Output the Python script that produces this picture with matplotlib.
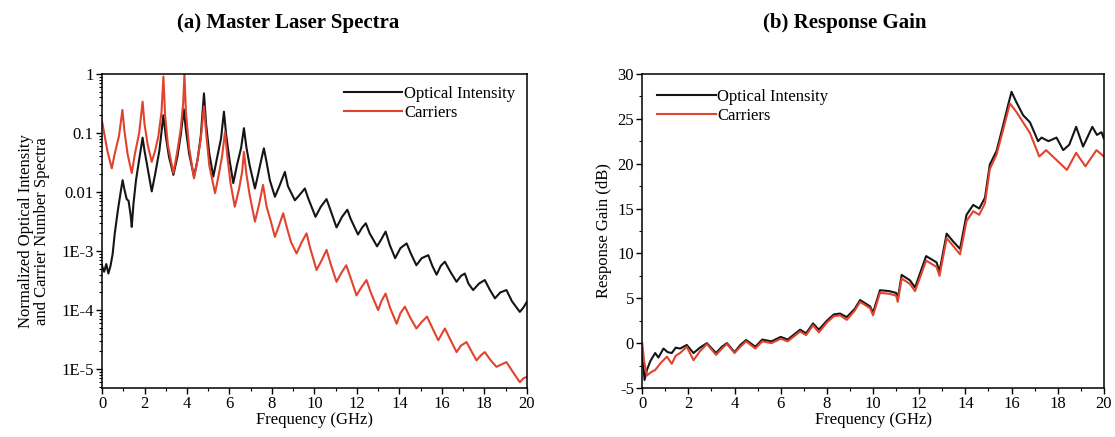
import numpy as np
import matplotlib
matplotlib.use("Agg")
import matplotlib.pyplot as plt
from matplotlib.ticker import LogLocator, FixedLocator, MultipleLocator, NullFormatter

plt.rcParams['font.family'] = ['Liberation Serif', 'DejaVu Serif']
plt.rcParams['font.size'] = 12
plt.rcParams['axes.unicode_minus'] = False

# (a) spectra, frequency in GHz, values read as log10 of normalized spectrum
freq_optical = [0.00, 0.10, 0.20, 0.30, 0.40, 0.50, 0.60, 0.75, 0.90, 0.97, 1.05, 1.16, 1.25, 1.35, 1.40,
                1.48, 1.60, 1.75, 1.91, 2.00, 2.15, 2.34, 2.50, 2.70, 2.89, 3.00, 3.15, 3.36, 3.55, 3.70,
                3.85, 3.95, 4.10, 4.33, 4.50, 4.65, 4.80, 4.90, 5.05, 5.24, 5.40, 5.60, 5.74, 5.85, 6.00,
                6.18, 6.35, 6.55, 6.68, 6.80, 6.95, 7.20, 7.35, 7.50, 7.62, 7.75, 7.90, 8.14, 8.35, 8.61,
                8.75, 9.08, 9.30, 9.55, 9.70, 10.05, 10.30, 10.57, 10.75, 11.04, 11.30, 11.55, 11.70, 12.05,
                12.25, 12.42, 12.60, 12.95, 13.15, 13.35, 13.55, 13.80, 14.05, 14.34, 14.55, 14.80, 15.05,
                15.36, 15.55, 15.75, 15.95, 16.14, 16.40, 16.69, 16.90, 17.08, 17.25, 17.47, 17.75, 18.02,
                18.25, 18.50, 18.75, 19.04, 19.30, 19.67, 19.85, 20.00]
optical_log = [-3.25, -3.35, -3.22, -3.38, -3.25, -3.05, -2.70, -2.30, -1.95, -1.80, -1.95, -2.12, -2.15, -2.40, -2.59,
               -2.20, -1.80, -1.45, -1.08, -1.30, -1.60, -1.99, -1.70, -1.30, -0.70, -1.05, -1.40, -1.71, -1.40, -1.05,
               -0.60, -0.95, -1.35, -1.74, -1.45, -1.05, -0.33, -0.85, -1.35, -1.74, -1.45, -1.10, -0.64, -1.05, -1.45,
               -1.85, -1.55, -1.25, -0.92, -1.25, -1.55, -1.94, -1.70, -1.45, -1.26, -1.50, -1.80, -2.08, -1.90, -1.66,
               -1.90, -2.14, -2.05, -1.94, -2.10, -2.42, -2.25, -2.12, -2.30, -2.60, -2.42, -2.30, -2.45, -2.72,
               -2.60, -2.53, -2.70, -2.92, -2.80, -2.67, -2.90, -3.12, -2.95, -2.87, -3.05, -3.24, -3.12,
               -3.07, -3.25, -3.40, -3.25, -3.18, -3.35, -3.52, -3.42, -3.38, -3.55, -3.66, -3.55, -3.49,
               -3.65, -3.80, -3.70, -3.66, -3.85, -4.03, -3.95, -3.86]

freq_carriers = [0.00, 0.10, 0.25, 0.46, 0.60, 0.80, 0.96, 1.05, 1.20, 1.40, 1.55, 1.75, 1.91, 2.00, 2.15,
                 2.34, 2.50, 2.65, 2.80, 2.89, 2.97, 3.10, 3.36, 3.55, 3.70, 3.82, 3.88, 3.95, 4.10, 4.33,
                 4.50, 4.65, 4.80, 4.90, 5.05, 5.32, 5.50, 5.65, 5.79, 5.90, 6.05, 6.25, 6.45, 6.60, 6.68,
                 6.80, 6.95, 7.20, 7.40, 7.58, 7.75, 7.95, 8.14, 8.35, 8.53, 8.70, 8.90, 9.16, 9.40, 9.63,
                 9.80, 10.10, 10.35, 10.57, 10.75, 11.04, 11.25, 11.50, 11.70, 11.98, 12.20, 12.45, 12.65,
                 13.00, 13.15, 13.35, 13.55, 13.87, 14.05, 14.26, 14.50, 14.80, 15.05, 15.30, 15.55, 15.83,
                 16.00, 16.14, 16.40, 16.69, 16.90, 17.16, 17.40, 17.63, 17.85, 18.02, 18.30, 18.57, 18.80,
                 19.04, 19.35, 19.67, 19.85, 20.00]
carriers_log = [-0.80, -1.00, -1.30, -1.60, -1.35, -1.05, -0.61, -0.95, -1.35, -1.68, -1.35, -1.00, -0.47, -0.85, -1.20,
                -1.49, -1.30, -1.06, -0.65, -0.045, -0.70, -1.20, -1.68, -1.30, -0.95, -0.50, 0.0, -0.65, -1.25, -1.77,
                -1.45, -1.10, -0.55, -1.00, -1.55, -2.02, -1.70, -1.40, -0.98, -1.40, -1.85, -2.25, -1.95, -1.65, -1.32,
                -1.70, -2.05, -2.50, -2.20, -1.88, -2.25, -2.50, -2.76, -2.55, -2.36, -2.60, -2.85, -3.04, -2.85, -2.70,
                -2.95, -3.32, -3.15, -2.98, -3.20, -3.52, -3.38, -3.24, -3.45, -3.75, -3.62, -3.49, -3.70,
                -4.00, -3.85, -3.72, -3.95, -4.23, -4.05, -3.94, -4.12, -4.31, -4.20, -4.11, -4.30, -4.51,
                -4.40, -4.31, -4.50, -4.71, -4.60, -4.54, -4.70, -4.85, -4.76, -4.71, -4.85, -4.96, -4.92,
                -4.88, -5.05, -5.22, -5.15, -5.13]

# (b) response gain in dB
freq_gain_optical = [0.00, 0.10, 0.20, 0.35, 0.56, 0.70, 0.92, 1.10, 1.28, 1.45, 1.64, 1.93, 2.22, 2.50, 2.80,
                     3.20, 3.45, 3.67, 4.00, 4.25, 4.50, 4.90, 5.20, 5.60, 6.00, 6.30, 6.84, 7.10, 7.40, 7.65,
                     8.00, 8.30, 8.57, 8.86, 9.20, 9.44, 9.87, 10.00, 10.30, 10.70, 11.00, 11.07, 11.24, 11.60,
                     11.82, 12.30, 12.75, 12.88, 13.19, 13.48, 13.77, 14.05, 14.34, 14.60, 14.85, 15.06, 15.35,
                     15.64, 15.85, 16.00, 16.20, 16.50, 16.80, 17.15, 17.30, 17.60, 17.95, 18.24, 18.50, 18.80,
                     19.10, 19.50, 19.70, 19.90, 20.00]
gain_optical = [-1.0, -4.1, -3.0, -2.0, -1.1, -1.6, -0.6, -1.0, -1.1, -0.5, -0.6, -0.2, -1.1, -0.5, 0.0,
                -1.1, -0.4, 0.0, -1.0, -0.2, 0.35, -0.4, 0.4, 0.2, 0.7, 0.4, 1.5, 1.1, 2.2, 1.5,
                2.5, 3.2, 3.3, 2.9, 3.8, 4.8, 4.1, 3.4, 5.9, 5.8, 5.6, 4.9, 7.6, 7.0,
                6.2, 9.7, 9.0, 8.0, 12.2, 11.3, 10.5, 14.3, 15.4, 15.0, 16.2, 19.9, 21.4,
                24.3, 26.5, 28.0, 26.9, 25.4, 24.6, 22.5, 22.9, 22.5, 22.9, 21.5, 22.1, 24.1,
                21.9, 24.1, 23.2, 23.5, 22.8]

freq_gain_carriers = [0.00, 0.08, 0.20, 0.40, 0.56, 0.80, 1.07, 1.28, 1.45, 1.64, 1.93, 2.22, 2.50, 2.80,
                      3.20, 3.45, 3.67, 4.00, 4.25, 4.50, 4.90, 5.20, 5.60, 6.00, 6.30, 6.84, 7.10, 7.40, 7.65,
                      8.00, 8.30, 8.57, 8.86, 9.20, 9.44, 9.87, 10.00, 10.30, 10.70, 11.00, 11.07, 11.24, 11.60,
                      11.82, 12.30, 12.75, 12.88, 13.19, 13.48, 13.77, 14.05, 14.34, 14.60, 14.85, 15.06, 15.35,
                      15.64, 15.93, 16.20, 16.50, 16.80, 17.20, 17.50, 17.95, 18.40, 18.80, 19.20, 19.68, 20.00]
gain_carriers = [0.0, -2.0, -3.6, -3.2, -3.0, -2.2, -1.5, -2.3, -1.4, -1.1, -0.4, -1.9, -0.9, -0.1,
                 -1.3, -0.6, -0.1, -1.1, -0.4, 0.2, -0.6, 0.2, 0.0, 0.5, 0.2, 1.3, 0.9, 2.0, 1.2,
                 2.3, 3.0, 3.1, 2.6, 3.6, 4.6, 3.9, 3.1, 5.6, 5.5, 5.3, 4.6, 7.2, 6.6,
                 5.8, 9.2, 8.5, 7.5, 11.7, 10.8, 9.9, 13.6, 14.7, 14.3, 15.6, 19.4, 21.0,
                 23.8, 26.7, 25.8, 24.6, 23.4, 20.8, 21.5, 20.4, 19.3, 21.2, 19.7, 21.5, 20.8]

black = '#151515'
red = '#e2432e'

fig = plt.figure(figsize=(11.15, 4.37), dpi=100)
ax1 = fig.add_axes([0.0915, 0.112, 0.381, 0.719])
ax2 = fig.add_axes([0.576, 0.112, 0.414, 0.719])

ax1.plot(freq_optical, np.power(10.0, optical_log), color=black, lw=1.5, label='Optical Intensity')
ax1.plot(freq_carriers, np.power(10.0, carriers_log), color=red, lw=1.5, label='Carriers')
ax1.set_yscale('log')
ax1.set_ylim(4.8e-6, 1)
ax1.set_xlim(0, 20)
ax1.yaxis.set_major_locator(FixedLocator([1e-5, 1e-4, 1e-3, 1e-2, 1e-1, 1]))
ax1.set_yticklabels(['1E-5', '1E-4', '1E-3', '0.01', '0.1', '1'])
ax1.yaxis.set_minor_locator(LogLocator(base=10, subs=np.arange(2, 10), numticks=20))
ax1.yaxis.set_minor_formatter(NullFormatter())
ax1.set_ylabel('Normalized Optical Intensity\nand Carrier Number Spectra', fontsize=12,
               linespacing=1.0, labelpad=8)
ax1.legend(loc='upper right', frameon=False, handlelength=3.5, handletextpad=0.1,
           borderaxespad=0.3, labelspacing=0.2, fontsize=12)

ax2.plot(freq_gain_optical, gain_optical, color=black, lw=1.5, label='Optical Intensity')
ax2.plot(freq_gain_carriers, gain_carriers, color=red, lw=1.5, label='Carriers')
ax2.set_xlim(0, 20)
ax2.set_ylim(-5, 30)
ax2.yaxis.set_major_locator(MultipleLocator(5))
ax2.yaxis.set_minor_locator(MultipleLocator(2.5))
ax2.set_ylabel('Response Gain (dB)', fontsize=12)
ax2.legend(loc='upper left', frameon=False, handlelength=3.5, handletextpad=0.1,
           borderaxespad=0.5, labelspacing=0.2, fontsize=12)

for ax in (ax1, ax2):
    ax.xaxis.set_major_locator(MultipleLocator(2))
    ax.xaxis.set_minor_locator(MultipleLocator(1))
    ax.set_xlabel('Frequency (GHz)', fontsize=12, labelpad=0)
    ax.tick_params(which='major', direction='out', length=4, width=1, labelsize=12, pad=2)
    ax.tick_params(which='minor', direction='out', length=2, width=0.8)
    for s in ax.spines.values():
        s.set_linewidth(1.1)

fig.text(0.258, 0.948, '(a) Master Laser Spectra', ha='center', va='center',
         fontsize=15, fontweight='bold')
fig.text(0.758, 0.948, '(b) Response Gain', ha='center', va='center',
         fontsize=15, fontweight='bold')

fig.savefig('out.png', dpi=100)
